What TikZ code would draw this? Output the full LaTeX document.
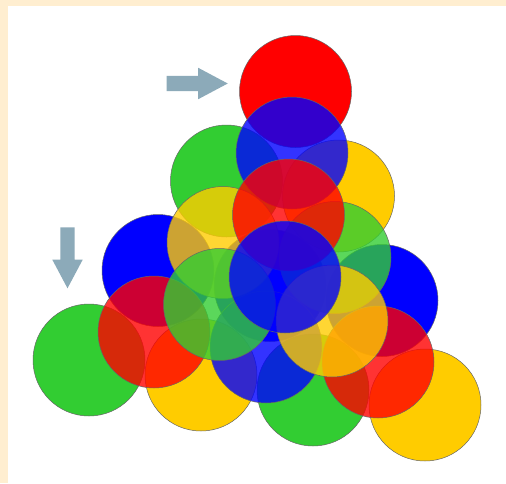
\documentclass[tikz,border=0pt]{standalone}
\usetikzlibrary{shapes.arrows}
\definecolor{ballred}{RGB}{255,0,0}
\definecolor{ballgreen}{RGB}{50,205,50}
\definecolor{ballyellow}{RGB}{255,204,0}
\definecolor{ballblue}{RGB}{0,0,255}
\definecolor{pointergrey}{RGB}{140,170,185}
\definecolor{framecream}{RGB}{255,238,208}

\begin{document}
\begin{tikzpicture}[x=1pt, y=-1pt,
        ball/.style={circle, draw=black!60, line width=0.5pt,
                     minimum size=112pt, inner sep=0pt},
        glass/.style={ball, fill opacity=0.8},
        pointer/.style={single arrow, fill=pointergrey, inner sep=7.5pt,
                        minimum height=61pt, single arrow head extend=8pt,
                        single arrow tip angle=56}
      ]
        \fill[framecream] (0,0) rectangle (506,483);
        \fill[white] (8,6) rectangle (506,483);

        % bottom layer
        \node[ball, fill=ballgreen]  (b00) at (89,360) {};
        \node[ball, fill=ballyellow] (b10) at (201,375) {};
        \node[ball, fill=ballgreen]  (b20) at (313,390) {};
        \node[ball, fill=ballyellow] (b30) at (425,405) {};
        \node[ball, fill=ballblue]   (b01) at (158,270.5) {};
        \node[ball, fill=ballblue]   (b11) at (270,285.5) {};
        \node[ball, fill=ballblue]   (b21) at (382,300.5) {};
        \node[ball, fill=ballgreen]  (b02) at (226.5,181) {};
        \node[ball, fill=ballyellow] (b12) at (338.5,196) {};
        \node[ball, fill=ballred]    (b03) at (295.5,91.5) {};

        % second layer
        \node[glass, fill=ballred]    (m00) at (154,332) {};
        \node[glass, fill=ballblue]   (m10) at (266,347) {};
        \node[glass, fill=ballred]    (m20) at (378,362) {};
        \node[glass, fill=ballyellow] (m01) at (223,242.5) {};
        \node[glass, fill=ballgreen]  (m11) at (335,257.5) {};
        \node[glass, fill=ballblue]   (m02) at (292,153) {};

        % third layer
        \node[glass, fill=ballgreen]  (t00) at (219.5,304.5) {};
        \node[glass, fill=ballyellow] (t10) at (332,321) {};
        \node[glass, fill=ballred]    (t01) at (288.5,215) {};

        % top
        \node[glass, fill=ballblue] (apex) at (285,277) {};

        \node[pointer] (intop) at (190,83.5) {};
        \node[pointer, shape border rotate=270, inner sep=7pt] (inleft) at (67.5,251) {};
      \end{tikzpicture}
\end{document}
